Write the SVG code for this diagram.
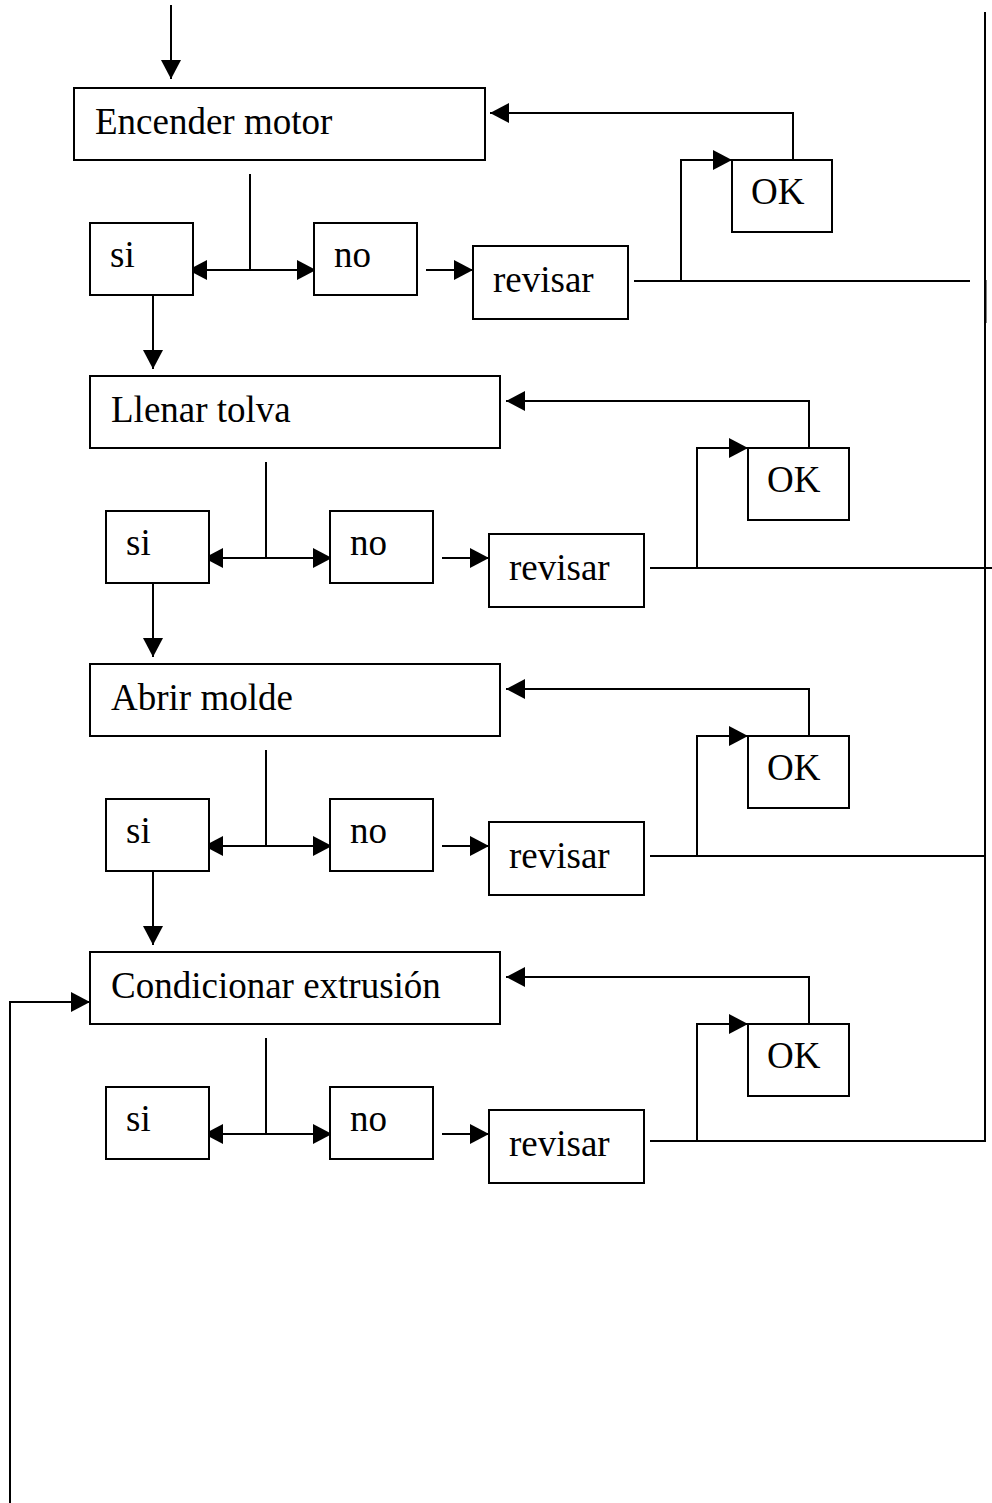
<svg xmlns="http://www.w3.org/2000/svg" width="992" height="1503" viewBox="0 0 992 1503">
<style>
.box{fill:#fff;stroke:#000;stroke-width:2}
.t{font-family:"Liberation Serif","Times New Roman",serif;font-size:37px;fill:#000}
.c{fill:none;stroke:#000;stroke-width:2}
.a{marker-end:url(#ah)}
.aa{marker-start:url(#ah);marker-end:url(#ah)}
</style>
<defs>
<marker id="ah" markerUnits="userSpaceOnUse" markerWidth="20" markerHeight="20" viewBox="0 0 20 20" refX="19" refY="10" orient="auto-start-reverse">
<path d="M0,0 L19,10 L0,20 z" fill="#000"/>
</marker>
</defs>
<rect width="992" height="1503" fill="#fff"/>
<g id="connectors">
<!-- top entry -->
<line class="c a" x1="171" y1="5" x2="171" y2="79"/>
<!-- row 1 -->
<line class="c" x1="250" y1="174" x2="250" y2="270"/>
<line class="c aa" x1="188" y1="270" x2="316" y2="270"/>
<line class="c a" x1="426" y1="270" x2="473" y2="270"/>
<line class="c" x1="634" y1="281" x2="970" y2="281"/>
<polyline class="c a" points="681,281 681,160 732,160"/>
<polyline class="c a" points="793,160 793,113 490,113"/>
<line class="c a" x1="153" y1="295" x2="153" y2="369"/>
<!-- row 2 -->
<line class="c" x1="266" y1="462" x2="266" y2="558"/>
<line class="c aa" x1="204" y1="558" x2="332" y2="558"/>
<line class="c a" x1="442" y1="558" x2="489" y2="558"/>
<line class="c" x1="650" y1="568" x2="992" y2="568"/>
<polyline class="c a" points="697,568 697,448 748,448"/>
<polyline class="c a" points="809,448 809,401 506,401"/>
<line class="c a" x1="153" y1="583" x2="153" y2="657"/>
<!-- row 3 -->
<line class="c" x1="266" y1="750" x2="266" y2="846"/>
<line class="c aa" x1="204" y1="846" x2="332" y2="846"/>
<line class="c a" x1="442" y1="846" x2="489" y2="846"/>
<line class="c" x1="650" y1="856" x2="985" y2="856"/>
<polyline class="c a" points="697,856 697,736 748,736"/>
<polyline class="c a" points="809,736 809,689 506,689"/>
<line class="c a" x1="153" y1="871" x2="153" y2="945"/>
<!-- row 4 -->
<line class="c" x1="266" y1="1038" x2="266" y2="1134"/>
<line class="c aa" x1="204" y1="1134" x2="332" y2="1134"/>
<line class="c a" x1="442" y1="1134" x2="489" y2="1134"/>
<line class="c" x1="650" y1="1141" x2="985" y2="1141"/>
<polyline class="c a" points="697,1141 697,1024 748,1024"/>
<polyline class="c a" points="809,1024 809,977 506,977"/>
<!-- right collector -->
<line class="c" x1="985" y1="12" x2="985" y2="1142"/>
<line class="c" x1="985.5" y1="280" x2="985.5" y2="323" stroke-width="3"/>
<!-- left loop -->
<polyline class="c a" points="10,1503 10,1002 90,1002"/>
</g>
<g id="n-encender"><rect class="box" x="74" y="88" width="411" height="72"/><text class="t" x="95" y="134">Encender motor</text></g>
<g id="n-si1"><rect class="box" x="90" y="223" width="103" height="72"/><text class="t" x="110" y="267">si</text></g>
<g id="n-no1"><rect class="box" x="314" y="223" width="103" height="72"/><text class="t" x="334" y="267">no</text></g>
<g id="n-revisar1"><rect class="box" x="473" y="246" width="155" height="73"/><text class="t" x="493" y="292">revisar</text></g>
<g id="n-ok1"><rect class="box" x="732" y="160" width="100" height="72"/><text class="t" x="751" y="204">OK</text></g>

<g id="n-llenar"><rect class="box" x="90" y="376" width="410" height="72"/><text class="t" x="111" y="422">Llenar tolva</text></g>
<g id="n-si2"><rect class="box" x="106" y="511" width="103" height="72"/><text class="t" x="126" y="555">si</text></g>
<g id="n-no2"><rect class="box" x="330" y="511" width="103" height="72"/><text class="t" x="350" y="555">no</text></g>
<g id="n-revisar2"><rect class="box" x="489" y="534" width="155" height="73"/><text class="t" x="509" y="580">revisar</text></g>
<g id="n-ok2"><rect class="box" x="748" y="448" width="101" height="72"/><text class="t" x="767" y="492">OK</text></g>

<g id="n-abrir"><rect class="box" x="90" y="664" width="410" height="72"/><text class="t" x="111" y="710">Abrir molde</text></g>
<g id="n-si3"><rect class="box" x="106" y="799" width="103" height="72"/><text class="t" x="126" y="843">si</text></g>
<g id="n-no3"><rect class="box" x="330" y="799" width="103" height="72"/><text class="t" x="350" y="843">no</text></g>
<g id="n-revisar3"><rect class="box" x="489" y="822" width="155" height="73"/><text class="t" x="509" y="868">revisar</text></g>
<g id="n-ok3"><rect class="box" x="748" y="736" width="101" height="72"/><text class="t" x="767" y="780">OK</text></g>

<g id="n-condicionar"><rect class="box" x="90" y="952" width="410" height="72"/><text class="t" x="111" y="998">Condicionar extrusión</text></g>
<g id="n-si4"><rect class="box" x="106" y="1087" width="103" height="72"/><text class="t" x="126" y="1131">si</text></g>
<g id="n-no4"><rect class="box" x="330" y="1087" width="103" height="72"/><text class="t" x="350" y="1131">no</text></g>
<g id="n-revisar4"><rect class="box" x="489" y="1110" width="155" height="73"/><text class="t" x="509" y="1156">revisar</text></g>
<g id="n-ok4"><rect class="box" x="748" y="1024" width="101" height="72"/><text class="t" x="767" y="1068">OK</text></g>
</svg>
